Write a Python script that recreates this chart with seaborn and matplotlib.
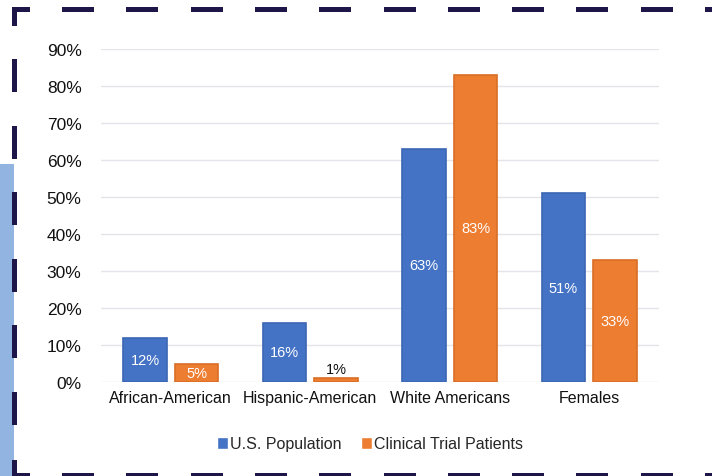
import matplotlib
matplotlib.use("Agg")
import matplotlib.pyplot as plt
import seaborn as sns
import pandas as pd
from matplotlib.patches import Rectangle

categories = ["African-American", "Hispanic-American", "White Americans", "Females"]
us_population = [12, 16, 63, 51]
trial_patients = [5, 1, 83, 33]
series_names = ["U.S. Population", "Clinical Trial Patients"]
yticks = [0, 10, 20, 30, 40, 50, 60, 70, 80, 90]

df = pd.DataFrame({
    "category": categories * 2,
    "value": us_population + trial_patients,
    "series": [series_names[0]] * 4 + [series_names[1]] * 4,
})

sns.set_theme(style="white")
plt.rcParams["font.family"] = ["Liberation Sans", "DejaVu Sans"]

W, H = 712, 477
fig = plt.figure(figsize=(W / 100, H / 100), dpi=100)
ax = fig.add_axes([101 / W, 1 - 383 / H, (659 - 101) / W, (383 - 50) / H])

palette = {series_names[0]: "#4472C4", series_names[1]: "#ED7D31"}
edges = {series_names[0]: "#3b66b3", series_names[1]: "#d96e26"}
sns.barplot(data=df, x="category", y="value", hue="series", palette=palette,
            ax=ax, width=0.74, gap=0.15, saturation=1, legend=True, zorder=3)

for cont, name in zip(ax.containers, series_names):
    for bar in cont:
        bar.set_edgecolor(edges[name])
        bar.set_linewidth(1.2)
        h = bar.get_height()
        xc = bar.get_x() + bar.get_width() / 2
        if h >= 4:
            ax.text(xc, h / 2, f"{h:.0f}%", ha="center", va="center",
                    color="white", fontsize=10.5)
        else:
            ax.text(xc, h + 0.6, f"{h:.0f}%", ha="center", va="bottom",
                    color="#111111", fontsize=10.5)

ax.set_ylim(0, 90)
ax.set_yticks(yticks)
ax.set_yticklabels([f"{v}%" for v in yticks], fontsize=12.5, color="#111111")
ax.set_xlim(-0.5, 3.5)
ax.tick_params(axis="x", labelsize=11.5, colors="#111111", pad=6, length=0)
ax.tick_params(axis="y", pad=14, length=0)
ax.set_xlabel("")
ax.set_ylabel("")
ax.yaxis.grid(True, color="#e3e5ea", linewidth=1, zorder=0)
ax.set_axisbelow(True)
for s in ax.spines.values():
    s.set_visible(False)

handles, labels = ax.get_legend_handles_labels()
ax.legend(handles, labels, loc="center", bbox_to_anchor=(370 / W, 1 - 445 / H),
          bbox_transform=fig.transFigure, ncol=2, frameon=False, fontsize=11.5,
          handlelength=0.7, handleheight=0.7, handletextpad=0.15, columnspacing=1.2)

# decorative frame
navy = "#1e1548"
fig.patches.append(Rectangle((0, 0), 14 / W, (477 - 165) / H, transform=fig.transFigure,
                             facecolor="#92b4e0", edgecolor="none", zorder=1))
def rect(x0, y0, w, h):
    fig.patches.append(Rectangle((x0 / W, 1 - (y0 + h) / H), w / W, h / H,
                                 transform=fig.transFigure, facecolor=navy,
                                 edgecolor="none", zorder=2))
# top-left corner
rect(12, 8, 18, 5)
rect(12, 8, 5, 19)
x = 62
while x < W:
    rect(x, 8, 32, 5)
    rect(x, 474, 32, 5)
    x += 64.3
y = 60
while y < H - 20:
    rect(12, y, 5, 33)
    y += 66.5
rect(12, 461, 5, 16)
rect(12, 474, 18, 5)

fig.savefig("out.png", dpi=100)
